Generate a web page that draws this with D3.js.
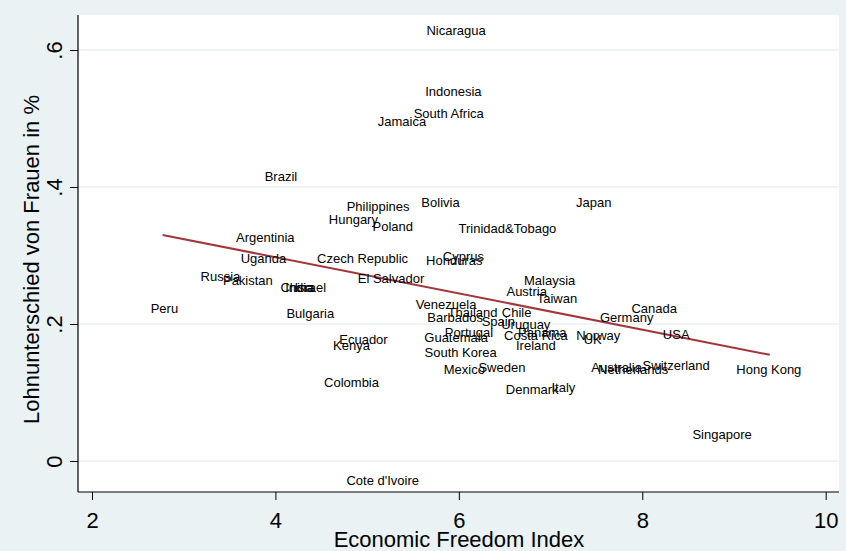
<!DOCTYPE html>
<html>
<head>
<meta charset="utf-8">
<script src="https://cdn.jsdelivr.net/npm/d3@7"></script>
<style>
  html, body { margin: 0; padding: 0; background: #eaf2f3; }
  svg { display: block; }
  text { font-family: "Liberation Sans", Arial, sans-serif; fill: #000; }
</style>
</head>
<body>
<svg id="chart" width="846" height="551"></svg>
<script>
// ---- data ----
const countries = ["Nicaragua","Indonesia","South Africa","Jamaica","Brazil","Philippines","Bolivia","Japan",
  "Hungary","Poland","Trinidad&Tobago","Argentinia","Czech Republic","Cyprus","Uganda","Honduras",
  "Russia","Pakistan","El Salvador","Malaysia","China","India","Israel","Austria","Taiwan","Venezuela",
  "Peru","Bulgaria","Thailand","Chile","Canada","Barbados","Spain","Germany","Uruguay","Panama",
  "Portugal","Guatemala","Ecuador","Costa Rica","Norway","UK","USA","Kenya","Ireland","South Korea",
  "Sweden","Mexico","Australia","Netherlands","Switzerland","Hong Kong","Colombia","Denmark","Italy",
  "Singapore","Cote d'Ivoire"];
const freedomIndex = [5.97,5.94,5.89,5.38,4.06,5.12,5.80,7.47,
  4.85,5.28,6.53,3.89,4.95,6.05,3.87,5.95,
  3.40,3.70,5.26,6.99,4.24,4.26,4.38,6.74,7.07,5.86,
  2.79,4.38,6.15,6.63,8.13,5.96,6.43,7.83,6.73,6.91,
  6.11,5.97,4.96,6.84,7.52,7.46,8.37,4.83,6.84,6.02,
  6.47,6.06,7.72,7.90,8.37,9.38,4.83,6.80,7.14,
  8.87,5.17];
const wageGap = [0.629,0.539,0.508,0.495,0.415,0.371,0.378,0.377,
  0.352,0.343,0.340,0.327,0.296,0.298,0.296,0.293,
  0.269,0.264,0.267,0.264,0.253,0.253,0.254,0.248,0.2365,0.229,
  0.222,0.215,0.2175,0.2175,0.222,0.210,0.204,0.210,0.200,0.188,
  0.187,0.181,0.178,0.1825,0.1825,0.177,0.185,0.168,0.168,0.158,
  0.136,0.133,0.136,0.134,0.140,0.134,0.114,0.105,0.1066,
  0.039,-0.028];
const fitX = [2.77, 9.39];
const fitY = [0.330, 0.155];
const xTicks = [2, 4, 6, 8, 10];
const yTicks = [0, 0.2, 0.4, 0.6];
const yTickLabels = ["0", ".2", ".4", ".6"];
const xTitle = "Economic Freedom Index";
const yTitle = "Lohnunterschied von Frauen in %";

// ---- layout ----
const svg = d3.select("#chart");
const W = 846, H = 551;
const plot = { left: 78, right: 839, top: 15, bottom: 492 };

const x = d3.scaleLinear().domain([2, 10]).range([92, 825.7]);
const y = d3.scaleLinear().domain([0, 0.6]).range([461, 50]);

svg.append("rect").attr("width", W).attr("height", H).attr("fill", "#eaf2f3");
svg.append("rect")
  .attr("x", plot.left).attr("y", plot.top)
  .attr("width", plot.right - plot.left).attr("height", plot.bottom - plot.top)
  .attr("fill", "#ffffff");

// gridlines
svg.append("g").selectAll("line").data(yTicks).join("line")
  .attr("x1", plot.left).attr("x2", plot.right)
  .attr("y1", d => y(d)).attr("y2", d => y(d))
  .attr("stroke", "#eaf2f3").attr("stroke-width", 1.6);

// y axis
const yAxis = d3.axisLeft(y).tickValues(yTicks)
  .tickFormat((d, i) => yTickLabels[i]).tickSize(8).tickPadding(6);
const gy = svg.append("g").attr("transform", `translate(${plot.left},0)`).call(yAxis);
gy.select(".domain").remove();
gy.selectAll(".tick line").attr("stroke", "#000");
gy.selectAll(".tick text")
  .attr("font-size", 22)
  .attr("text-anchor", "middle")
  .attr("dominant-baseline", "central")
  .attr("x", null).attr("dy", null)
  .attr("transform", "translate(-24,0) rotate(-90)");
svg.append("line")
  .attr("x1", plot.left).attr("x2", plot.left)
  .attr("y1", plot.top).attr("y2", plot.bottom)
  .attr("stroke", "#000").attr("stroke-width", 1.2);

// x axis
const xAxis = d3.axisBottom(x).tickValues(xTicks).tickFormat(d3.format("d"))
  .tickSize(8).tickPadding(6);
const gx = svg.append("g").attr("transform", `translate(0,${plot.bottom})`).call(xAxis);
gx.select(".domain").remove();
gx.selectAll(".tick line").attr("stroke", "#000");
gx.selectAll(".tick text").attr("font-size", 22).attr("dy", null)
  .attr("y", 28).attr("dominant-baseline", "central");
svg.append("line")
  .attr("x1", plot.left).attr("x2", plot.right)
  .attr("y1", plot.bottom).attr("y2", plot.bottom)
  .attr("stroke", "#000").attr("stroke-width", 1.2);

// titles
svg.append("text").attr("x", 459).attr("y", 539)
  .attr("text-anchor", "middle").attr("dominant-baseline", "central")
  .attr("font-size", 22).text(xTitle);
svg.append("text")
  .attr("transform", `translate(31,${(plot.top + plot.bottom) / 2 + 6}) rotate(-90)`)
  .attr("text-anchor", "middle").attr("dominant-baseline", "central")
  .attr("font-size", 22).text(yTitle);

// fit line
svg.append("path")
  .datum(fitX.map((d, i) => [d, fitY[i]]))
  .attr("d", d3.line().x(d => x(d[0])).y(d => y(d[1])))
  .attr("fill", "none").attr("stroke", "#a3363b").attr("stroke-width", 2);

// labels
svg.append("g").selectAll("text").data(countries).join("text")
  .attr("x", (d, i) => x(freedomIndex[i]))
  .attr("y", (d, i) => y(wageGap[i]))
  .attr("text-anchor", "middle").attr("dominant-baseline", "central")
  .attr("font-size", 13)
  .text(d => d);
</script>
</body>
</html>
